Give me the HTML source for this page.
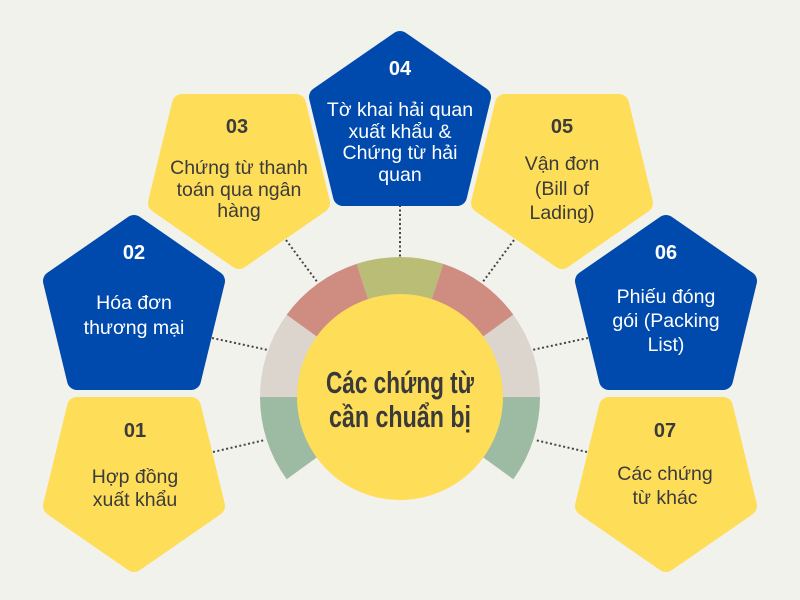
<!DOCTYPE html>
<html><head><meta charset="utf-8"><style>
body{margin:0;background:#f2f2ec;}
svg{display:block}
.n{font-family:"Liberation Sans",sans-serif;font-weight:bold;font-size:20px;text-anchor:middle}
.t{font-family:"Liberation Sans",sans-serif;font-size:19.5px;text-anchor:middle}
.y{fill:#3b3b3b}.w{fill:#fff}
</style></head><body>
<svg width="800" height="600" viewBox="0 0 800 600">
<rect width="800" height="600" fill="#f2f2ec"/>
<g stroke="#444" stroke-width="2" stroke-dasharray="2 2.5">
<line x1="400" y1="205" x2="400" y2="257"/>
<line x1="286" y1="240" x2="318" y2="283"/>
<line x1="514" y1="240" x2="482" y2="283"/>
<line x1="212" y1="338" x2="268" y2="350"/>
<line x1="588" y1="338" x2="532" y2="350"/>
<line x1="213" y1="452" x2="265" y2="440"/>
<line x1="587" y1="452" x2="535" y2="440"/>
</g>
<g transform="translate(400,397)">
<path d="M-140,0 A140,140 0 0 0 -113.3,82.3 L-80.9,58.8 A100,100 0 0 1 -100,0Z" fill="#9dbba3"/>
<path d="M-113.3,-82.3 A140,140 0 0 0 -140,0 L-100,0 A100,100 0 0 1 -80.9,-58.8Z" fill="#dcd5ce"/>
<path d="M-43.3,-133.1 A140,140 0 0 0 -113.3,-82.3 L-80.9,-58.8 A100,100 0 0 1 -30.9,-95.1Z" fill="#cf8c81"/>
<path d="M43.3,-133.1 A140,140 0 0 0 -43.3,-133.1 L-30.9,-95.1 A100,100 0 0 1 30.9,-95.1Z" fill="#b9bd76"/>
<path d="M113.3,-82.3 A140,140 0 0 0 43.3,-133.1 L30.9,-95.1 A100,100 0 0 1 80.9,-58.8Z" fill="#cf8c81"/>
<path d="M140,0 A140,140 0 0 0 113.3,-82.3 L80.9,-58.8 A100,100 0 0 1 100,0Z" fill="#dcd5ce"/>
<path d="M113.3,82.3 A140,140 0 0 0 140,0 L100,0 A100,100 0 0 1 80.9,58.8Z" fill="#9dbba3"/>
<circle r="103" fill="#fedd59"/>
</g>
<text x="400" y="393" text-anchor="middle" textLength="148" lengthAdjust="spacingAndGlyphs" font-family="'Liberation Sans',sans-serif" font-weight="bold" font-size="31" fill="#3a3a3a">Các chứng từ</text>
<text x="400" y="427" text-anchor="middle" textLength="142" lengthAdjust="spacingAndGlyphs" font-family="'Liberation Sans',sans-serif" font-weight="bold" font-size="31" fill="#3a3a3a">cần chuẩn bị</text>

<g stroke-width="20" stroke-linejoin="round">
<polygon transform="translate(42,397)" fill="#fedd59" stroke="#fedd59" points="35,10 149,10 173,109 92,165 11,109"/>
<polygon transform="translate(42,214)" fill="#004aad" stroke="#004aad" points="92,11 173,67 149,166 35,166 11,67"/>
<polygon transform="translate(147,94)" fill="#fedd59" stroke="#fedd59" points="35,10 149,10 173,109 92,165 11,109"/>
<polygon transform="translate(308,30)" fill="#004aad" stroke="#004aad" points="92,11 173,67 149,166 35,166 11,67"/>
<polygon transform="translate(470,94)" fill="#fedd59" stroke="#fedd59" points="35,10 149,10 173,109 92,165 11,109"/>
<polygon transform="translate(574,214)" fill="#004aad" stroke="#004aad" points="92,11 173,67 149,166 35,166 11,67"/>
<polygon transform="translate(574,397)" fill="#fedd59" stroke="#fedd59" points="35,10 149,10 173,109 92,165 11,109"/>
</g>

<text class="n y" x="135" y="437">01</text>
<text class="t y" x="135" y="483">Hợp đồng</text>
<text class="t y" x="135" y="506">xuất khẩu</text>

<text class="n w" x="134" y="259">02</text>
<text class="t w" x="134" y="309">Hóa đơn</text>
<text class="t w" x="134" y="334">thương mại</text>

<text class="n y" x="237" y="133">03</text>
<text class="t y" x="239" y="174">Chứng từ thanh</text>
<text class="t y" x="239" y="196">toán qua ngân</text>
<text class="t y" x="239" y="217">hàng</text>

<text class="n w" x="400" y="75">04</text>
<text class="t w" x="400" y="116">Tờ khai hải quan</text>
<text class="t w" x="400" y="138">xuất khẩu &amp;</text>
<text class="t w" x="400" y="159">Chứng từ hải</text>
<text class="t w" x="400" y="181">quan</text>

<text class="n y" x="562" y="133">05</text>
<text class="t y" x="562" y="170">Vận đơn</text>
<text class="t y" x="562" y="195">(Bill of</text>
<text class="t y" x="562" y="219">Lading)</text>

<text class="n w" x="666" y="259">06</text>
<text class="t w" x="666" y="303">Phiếu đóng</text>
<text class="t w" x="666" y="327">gói (Packing</text>
<text class="t w" x="666" y="351">List)</text>

<text class="n y" x="665" y="437">07</text>
<text class="t y" x="665" y="480">Các chứng</text>
<text class="t y" x="665" y="504">từ khác</text>
</svg>
</body></html>
